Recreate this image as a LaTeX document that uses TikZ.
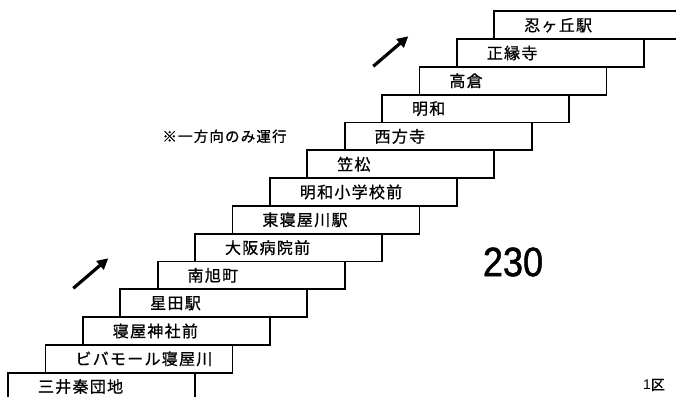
\documentclass[tikz,border=0pt]{standalone}
\usepackage{fontspec}
\newfontfamily\jp[LetterSpace=8,FakeBold=0.8]{Noto Sans CJK JP}
\newfontfamily\jpn[FakeBold=0.8]{Noto Sans CJK JP}
\newfontfamily\numfont{Liberation Sans}
\newfontfamily\bignumfont[FakeBold=1.2]{Liberation Sans}
\usetikzlibrary{arrows.meta}
\begin{document}
\begin{tikzpicture}[x=1pt,y=-1pt,
  stationbox/.style={draw, line width=1.8pt, fill=white, anchor=north west,
    outer sep=0pt, minimum height=27.8pt, text width=183pt, inner xsep=2pt,
    inner ysep=0pt, align=left, font=\jp\fontsize{16}{18}\selectfont},
  dirarrow/.style={line width=3.2pt, -{Triangle[length=11pt,width=11pt]}},
  notetext/.style={inner sep=0pt, font=\jp\fontsize{14.5}{16}\selectfont},
  ]
\path[use as bounding box] (0,0) rectangle (676,396);
\clip (0,0) rectangle (676,396);
\foreach \i/\name in {13/忍ヶ丘駅, 12/正縁寺, 11/高倉, 10/明和, 9/西方寺, 8/笠松,
  7/明和小学校前, 6/東寝屋川駅, 5/大阪病院前, 4/南旭町, 3/星田駅,
  2/寝屋神社前, 1/ビバモール寝屋川, 0/三井秦団地}
  \node[stationbox] (s\i) at ({8+37.4*\i},{372.7-27.8*\i}) {\hspace*{28pt}\name};
\coordinate (a1t) at (73.3,288.3);
\coordinate (a1h) at (108.3,258.3);
\coordinate (a2t) at (373.3,66.3);
\coordinate (a2h) at (408.3,36.3);
\draw[dirarrow] (a1t) -- (a1h);
\draw[dirarrow] (a2t) -- (a2h);
\node[notetext] (note) at (224.5,136.3) {※一方向のみ運行};
\node[inner sep=0pt, font=\bignumfont\fontsize{41}{44}\selectfont] (num) at (513,262) {\scalebox{0.88}[1]{230}};
\node[inner sep=0pt] (zone) at (654,385) {\numfont\fontsize{14}{16}\selectfont 1\jpn 区};
\end{tikzpicture}
\end{document}
